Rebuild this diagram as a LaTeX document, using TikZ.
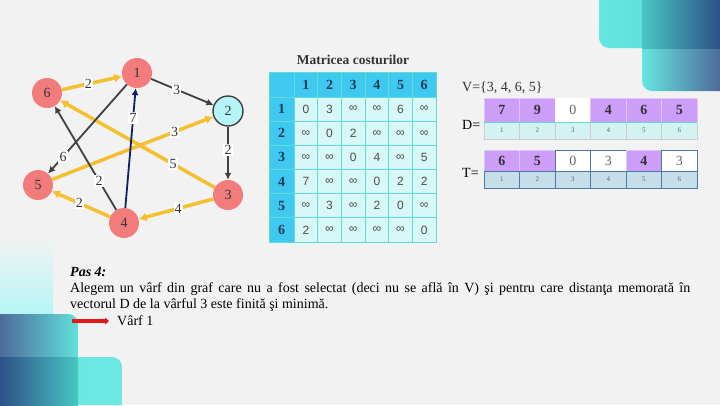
\documentclass[tikz,border=0pt]{standalone}
\usepackage{fontspec}
\setmainfont{Liberation Serif}
\newfontfamily\tabfont{Liberation Sans}
\usetikzlibrary{arrows.meta}

\definecolor{bgcol}{HTML}{F2F2F2}
\definecolor{nodered}{HTML}{F27B7B}
\definecolor{cyanfill}{HTML}{B5F5FA}
\definecolor{darkedge}{HTML}{404040}
\definecolor{navy}{HTML}{0D225E}
\definecolor{galben}{HTML}{F4C030}
\definecolor{txtdark}{HTML}{333333}
\definecolor{hdrblue}{HTML}{3FC9F0}
\definecolor{cellcyan}{HTML}{D8F8F8}
\definecolor{gridturq}{HTML}{5EDCD6}
\definecolor{hdrtext}{HTML}{1E3C5A}
\definecolor{violet}{HTML}{CC9EF7}
\definecolor{dindex}{HTML}{D5F2F2}
\definecolor{tindex}{HTML}{C6DEE8}
\definecolor{tline}{HTML}{4A78A8}
\definecolor{turq}{HTML}{66E6E0}
\definecolor{darkblue}{HTML}{2E5088}
\definecolor{redarrow}{HTML}{E01818}

\begin{document}
\begin{tikzpicture}[x=1pt,y=-1pt,
	varf/.style={circle, fill=nodered, minimum size=30pt, inner sep=0pt, text=txtdark, font=\fontsize{14}{14}\selectfont},
	vizitat/.style={varf, fill=cyanfill, draw=darkedge, line width=1.4pt},
	eticheta/.style={fill=white, inner sep=1.2pt, text=txtdark, font=\fontsize{14}{14}\selectfont},
	galben/.style={draw=galben, line width=3.5pt, -{Latex[length=8pt,width=9pt]}},
	gri/.style={draw=darkedge, line width=1.8pt, -{Latex[length=7pt,width=7pt]}},
	albastru/.style={draw=navy, line width=1.8pt, -{Latex[length=7pt,width=7pt]}},
	antet/.style={rectangle, fill=hdrblue, draw=gridturq, line width=1pt, minimum width=23.67pt, minimum height=24.17pt, inner sep=0pt, text=hdrtext, font=\bfseries\fontsize{14}{14}\selectfont},
	celula/.style={antet, fill=cellcyan, text=black!70, font=\tabfont\fontsize{12}{12}\selectfont},
	dcel1/.style={rectangle, fill=violet, draw=violet!60!white, line width=.5pt, minimum width=35.5pt, minimum height=24pt, inner sep=0pt, text=black!80, font=\bfseries\fontsize{14}{14}\selectfont},
	dcel0/.style={dcel1, fill=white, draw=none, text=black!60, font=\fontsize{14}{14}\selectfont},
	dind/.style={rectangle, fill=dindex, draw=black!20, line width=.4pt, minimum width=35.5pt, minimum height=17pt, inner sep=0pt, text=black!60, font=\fontsize{7}{7}\selectfont},
	tcel1/.style={dcel1, minimum height=21pt},
	tcel0/.style={tcel1, fill=white, draw=tline, line width=.6pt, text=black!60, font=\fontsize{14}{14}\selectfont},
	tind/.style={dind, fill=tindex, draw=tline, line width=.6pt},
	text14/.style={inner sep=0pt, anchor=west, font=\fontsize{14}{16}\selectfont}]

	% fond
	\fill[bgcol] (0,0) rectangle (720,405);
	\useasboundingbox (0,0) rectangle (720,405);
	% coin haut droit
	\shade[left color=turq, right color=turq!85!teal] (720,0) -- (599,0) [rounded corners=10pt] -- (599,48) [sharp corners] -- (720,48) -- cycle;
	\shade[left color=turq, right color=darkblue!85!white] (720,48) -- (642,48) [rounded corners=10pt] -- (642,91) [sharp corners] -- (720,91) -- cycle;
	\shade[left color=turq!70!teal, right color=darkblue] (642,0) rectangle (720,48);
	% coin bas gauche
	\shade[top color=bgcol, bottom color=cyan!25!bgcol] (0,237) rectangle (53,314);
	\shade[left color=turq, right color=turq!95!white] (0,405) -- (0,357) [rounded corners=10pt] -- (122,357) [sharp corners] -- (122,405) -- cycle;
	\shade[left color=darkblue!85!white, right color=turq!95!teal] (0,357) -- (0,314) [rounded corners=10pt] -- (78,314) [sharp corners] -- (78,357) -- cycle;
	\shade[left color=darkblue, right color=turq!70!teal] (0,357) rectangle (78,405);

	% graful
	\node[varf] (v1) at (137,73) {1};
	\node[vizitat] (v2) at (228,111) {2};
	\node[varf] (v3) at (228,195) {3};
	\node[varf] (v4) at (124,223) {4};
	\node[varf] (v5) at (38,185) {5};
	\node[varf] (v6) at (47,93) {6};

	\draw[galben] (v5) -- node[eticheta, pos=.76] {3} (v2);
	\draw[galben] (v3) -- node[eticheta, pos=.27] {5} (v6);
	\draw[gri] (v4) -- node[eticheta, pos=.28] {2} (v6);
	\draw[gri] (v1) -- node[eticheta, pos=.81] {6} (v5);
	\draw[albastru] (v4) -- node[eticheta, pos=.75] {7} (v1);
	\draw[galben] (v6) -- node[eticheta, pos=.44] {2} (v1);
	\draw[gri] (v1) -- node[eticheta, pos=.41] {3} (v2);
	\draw[gri] (v2) -- node[eticheta, pos=.44] {2} (v3);
	\draw[galben] (v4) -- node[eticheta, pos=.53] {2} (v5);
	\draw[galben] (v3) -- node[eticheta, pos=.47] {4} (v4);

	% matricea costurilor
	\node[text=txtdark, font=\bfseries\fontsize{13.5}{14}\selectfont] (titlu) at (353,60) {Matricea costurilor};
	\node[antet, minimum width=25pt, minimum height=25pt] (h0) at (281.5,84.5) {};
	\foreach \j in {1,...,6} {
		\node[antet, minimum height=25pt] (h\j) at ({294+(\j-0.5)*23.67},84.5) {\j};
		\node[antet, minimum width=25pt] (r\j) at (281.5,{97+(\j-0.5)*24.17}) {\j};
	}
	\foreach \r [count=\i] in {{0,3,∞,∞,6,∞},{∞,0,2,∞,∞,∞},{∞,∞,0,4,∞,5},{7,∞,∞,0,2,2},{∞,3,∞,2,0,∞},{2,∞,∞,∞,∞,0}}
		\foreach \v [count=\j] in \r
			\node[celula] (c\i\j) at ({294+(\j-0.5)*23.67},{97+(\i-0.5)*24.17}) {\v};

	% vectorii D si T
	\node[text14, text=txtdark] (vset) at (462,88) {V=\{3, 4, 6, 5\}};
	\node[text14] (deq) at (462,125) {D=};
	\node[text14] (teq) at (462,173) {T=};
	\foreach \v/\m [count=\j] in {7/1,9/1,0/0,4/1,6/1,5/1} {
		\node[dcel\m] (d\j) at ({484+(\j-0.5)*35.5},110) {\v};
		\node[dind] (di\j) at ({484+(\j-0.5)*35.5},130.5) {\j};
	}
	\draw[gridturq, line width=1.5pt] (d1.south west) -- (d6.south east);
	\foreach \v/\m [count=\j] in {6/1,5/1,0/0,3/0,4/1,3/0} {
		\node[tcel\m] (t\j) at ({484+(\j-0.5)*35.5},160.5) {\v};
		\node[tind] (ti\j) at ({484+(\j-0.5)*35.5},179.5) {\j};
	}

	% textul
	\node[text14, font=\bfseries\itshape\fontsize{14}{16}\selectfont] (pas) at (70,272) {Pas 4:};
	\node[text14] (rand1) at (70,289) {\makebox[620pt][s]{Alegem un vârf din graf care nu a fost selectat (deci nu se află în V) şi pentru care distanţa memorată în}};
	\node[text14] (rand2) at (70,305) {vectorul D de la vârful 3 este finită şi minimă.};
	\node[text14] (varf1) at (117,321) {Vârf 1};
	\coordinate (sg) at (72,321);
	\draw[redarrow, line width=4pt, -{Triangle[length=4pt,width=7pt]}, shorten >=8pt] (sg) -- (varf1.west);
\end{tikzpicture}
\end{document}
